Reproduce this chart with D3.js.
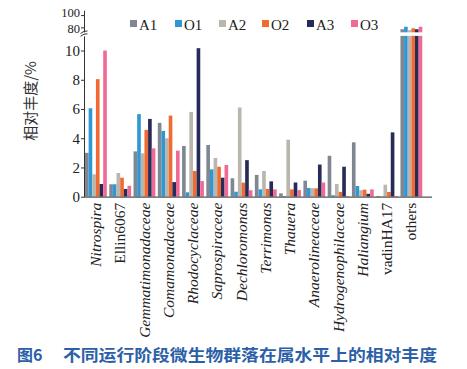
<!DOCTYPE html>
<html><head><meta charset="utf-8">
<script src="https://cdn.jsdelivr.net/npm/d3@7"></script>
<style>body{margin:0;background:#fff}svg{display:block}</style>
</head><body>
<svg id="c" width="467" height="369"></svg>
<script>
const categories = ["Nitrospira","Ellin6067","Gemmatimonadaceae","Comamonadaceae","Rhodocyclaceae","Saprospiraceae","Dechloromonas","Terrimonas","Thauera","Anaerolineaceae","Hydrogenophilaceae","Haliangium","vadinHA17","others"];
const italicCats = ["Nitrospira","Gemmatimonadaceae","Comamonadaceae","Rhodocyclaceae","Saprospiraceae","Dechloromonas","Terrimonas","Thauera","Anaerolineaceae","Hydrogenophilaceae","Haliangium"];
const seriesNames = ["A1","O1","A2","O2","A3","O3"];
const seriesColors = ["#7f8892","#2f97d3","#bab6ad","#f06a32","#272b58","#ef6b94"];
const A1 = [3.0,0.85,3.1,5.05,3.47,3.54,1.26,1.49,0.23,1.1,2.8,3.72,0.05,77];
const O1 = [6.05,0.85,5.65,4.5,0.3,1.87,0.34,0.5,0.05,0.6,0.1,0.73,0.02,81];
const A2 = [1.53,1.62,2.97,4.0,5.8,2.65,6.1,1.76,3.9,0.58,0.87,0.45,0.82,75.5];
const O2 = [8.04,1.3,4.57,5.55,1.76,2.05,0.96,0.53,0.5,0.57,0.33,0.48,0.32,78.5];
const A3 = [0.87,0.53,5.32,1.0,10.16,1.3,2.5,1.05,0.97,2.2,2.05,0.2,4.4,77];
const O3 = [10.0,0.75,3.31,3.15,1.07,2.17,0.44,0.5,0.45,0.97,0.05,0.5,0.05,81];
const seriesValues = [A1,O1,A2,O2,A3,O3];
const lowerTicks = [0,2,4,6,8,10];
const upperTicks = [80,100];
const yLabel = "相对丰度/%";
const caption = "不同运行阶段微生物群落在属水平上的相对丰度";

const svg = d3.select("#c");
const serif = "'Liberation Serif','Times New Roman',serif";
const x0 = 84;
const x = d3.scaleBand().domain(categories).range([85,432]).paddingInner(0.1).paddingOuter(0.2).align(0);
const xs = d3.scaleBand().domain(seriesNames).range([0,x.bandwidth()]);
const yLow = d3.scaleLinear().domain([0,11]).range([196.7,35.9]);
const yUp = d3.scaleLinear().domain([72,108]).range([32.3,10.16]);

// bars
const rows = [];
categories.forEach((c,i)=>seriesNames.forEach((s,j)=>rows.push({c,s,j,v:seriesValues[j][i]})));
const g = svg.append("g");
rows.forEach(d=>{
  const bx = x(d.c)+xs(d.s), bw = xs.bandwidth();
  if(d.v<=11){
    g.append("rect").attr("x",bx).attr("width",bw).attr("y",yLow(d.v)).attr("height",yLow(0)-yLow(d.v)).attr("fill",seriesColors[d.j]);
  } else {
    g.append("rect").attr("x",bx).attr("width",bw).attr("y",yLow(11)).attr("height",yLow(0)-yLow(11)).attr("fill",seriesColors[d.j]);
    g.append("rect").attr("x",bx).attr("width",bw).attr("y",yUp(d.v)).attr("height",yUp(72)-yUp(d.v)).attr("fill",seriesColors[d.j]);
  }
});

// axes
const axLow = svg.append("g").attr("transform",`translate(${x0},0)`)
  .call(d3.axisLeft(yLow).tickValues(lowerTicks).tickSize(3).tickSizeOuter(0));
const axUp = svg.append("g").attr("transform",`translate(${x0},0)`)
  .call(d3.axisLeft(yUp).tickValues(upperTicks).tickSize(3).tickSizeOuter(0));
[axLow,axUp].forEach(a=>{
  a.selectAll("path,line").attr("stroke","#333").attr("stroke-width",1);
  a.selectAll("text").attr("font-family",serif).attr("font-size",15).attr("fill","#222").attr("x",-4);
});
axUp.selectAll("text").attr("font-size",12.5).attr("dy",d=>d===100?"0.15em":"0.42em");
// break marks
svg.append("rect").attr("x",80).attr("y",32.5).attr("width",8).attr("height",3.2).attr("fill","#fff");
[[33.5],[36.3]].forEach(([yy])=>{
  svg.append("path").attr("d",`M${x0-3.5},${yy} Q${x0},${yy-3} ${x0+3.5},${yy-2.5}`).attr("fill","none").attr("stroke","#333").attr("stroke-width",1);
});

// x axis
const ax = svg.append("g").attr("transform",`translate(0,${yLow(0)})`)
  .call(d3.axisBottom(x).tickSize(0).tickSizeOuter(0));
ax.select(".domain").attr("d",`M${x0},0.5H432`).attr("stroke","#555").attr("stroke-width",1.3);
ax.selectAll(".tick text")
  .attr("transform","rotate(-90)").attr("x",-6).attr("y",0).attr("dy","0.33em")
  .attr("text-anchor","end").attr("font-family",serif).attr("font-size",15.5).attr("fill","#222")
  .attr("font-style",d=>italicCats.includes(d)?"italic":"normal");

// y label
svg.append("text").attr("transform","translate(36,101) rotate(-90)").attr("text-anchor","middle")
  .attr("font-family","'Noto Sans CJK SC',sans-serif").attr("font-size",15).attr("fill","#333").text(yLabel);

// legend
const legX = [130,175,219,262,307,351];
seriesNames.forEach((s,j)=>{
  svg.append("rect").attr("x",legX[j]).attr("y",20).attr("width",7).attr("height",7).attr("fill",seriesColors[j]);
  svg.append("text").attr("x",legX[j]+9).attr("y",29.5).attr("font-family",serif).attr("font-size",15).attr("fill","#222").text(s);
});

// caption
svg.append("text").attr("x",17).attr("y",361).attr("font-family","'Noto Sans CJK SC',sans-serif").attr("font-weight","bold")
  .attr("font-size",16).attr("fill","#2b60a8").text("图6");
svg.append("text").attr("x",63).attr("y",361).attr("font-family","'Noto Sans CJK SC',sans-serif").attr("font-weight","bold")
  .attr("font-size",16).attr("fill","#2b60a8").attr("textLength",374).attr("lengthAdjust","spacingAndGlyphs").text(caption);
</script>
</body></html>
